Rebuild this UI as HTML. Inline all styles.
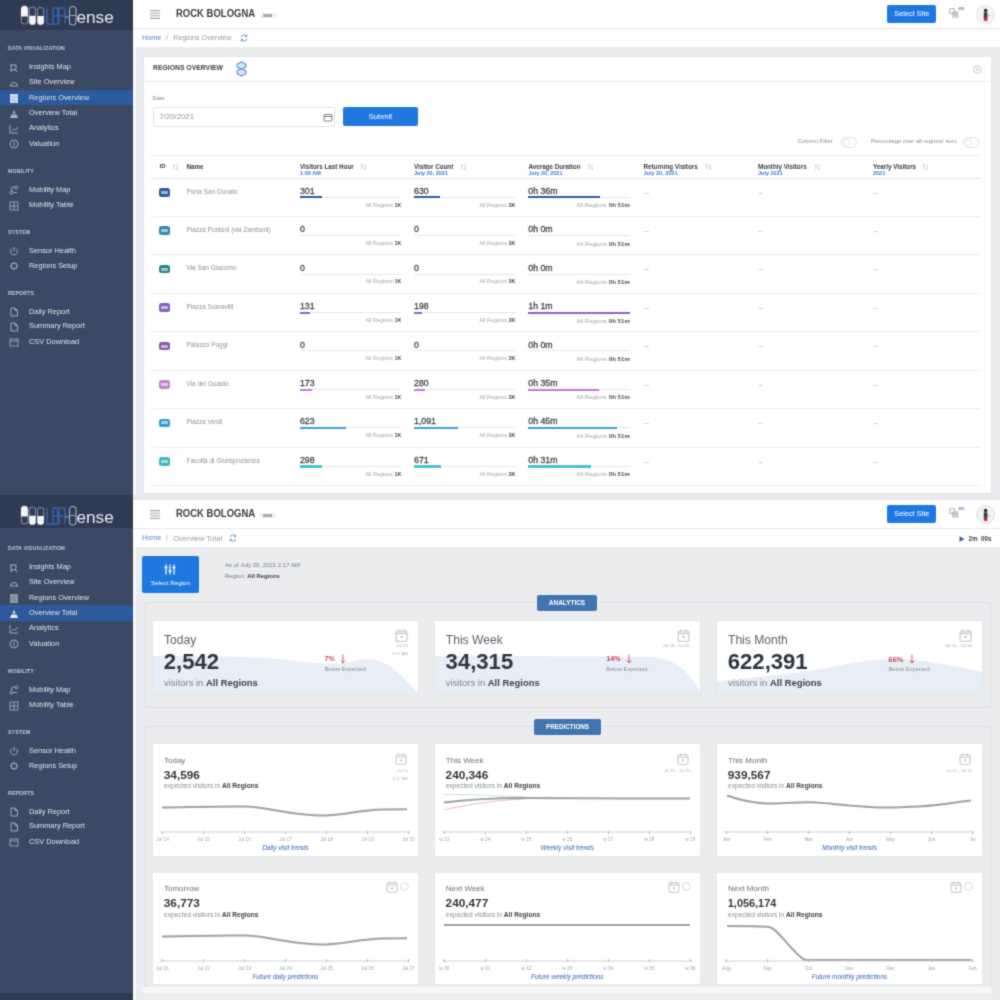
<!DOCTYPE html><html><head><meta charset="utf-8"><style>*{margin:0;padding:0;box-sizing:border-box}html,body{width:1000px;height:1000px;overflow:hidden}body{position:relative;background:#ebecee;font-family:"Liberation Sans",sans-serif}#w{position:absolute;left:0;top:0;width:1000px;height:1000px;overflow:hidden;filter:url(#bf)}.t,.r{position:absolute}.t{white-space:nowrap}svg.r{overflow:visible}</style></head><body><svg width="0" height="0" style="position:absolute"><filter id="bf" x="0" y="0" width="1" height="1" color-interpolation-filters="sRGB"><feConvolveMatrix order="3" kernelMatrix="0.0256 0.1088 0.0256 0.1088 0.4624 0.1088 0.0256 0.1088 0.0256" edgeMode="duplicate" preserveAlpha="true"/></filter></svg><div id="w">
<div class="r" style="left:133px;top:47px;width:867px;height:448px;background:#ebecee;"></div>
<div class="r" style="left:142.5px;top:56px;width:849.5px;height:438px;background:#ffffff;border:1px solid #e4e6e9;"></div>
<div class="r" style="left:143px;top:81px;width:848px;height:1px;background:#eceef0;"></div>
<div class="t" style="left:153px;top:63.4px;font-size:8.00px;line-height:9.6px;color:#3d4047;font-weight:bold;transform:scaleX(0.853);transform-origin:0 50%;">REGIONS OVERVIEW</div>
<svg class="r" style="left:236px;top:61px" width="11" height="16" viewBox="0 0 11 16"><path d="M5.5 0.8 L9.8 3.2 V6.2 L5.5 8 L1.2 6.2 V3.2Z" fill="#d3e8fb" stroke="#5a8cc8" stroke-width="1.1"/><path d="M5.5 7.8 L9.8 9.6 V12.8 L5.5 15.2 L1.2 12.8 V9.6Z" fill="#d3e8fb" stroke="#5a8cc8" stroke-width="1.1"/></svg>
<svg class="r" style="left:972.5px;top:64.5px" width="9" height="9" viewBox="0 0 9 9" fill="none" stroke="#bfc2c7" stroke-width="0.9"><circle cx="4.5" cy="4.5" r="3.8"/><circle cx="4.5" cy="4.5" r="1.2"/></svg>
<div class="t" style="left:152.6px;top:94.6px;font-size:5.68px;line-height:6.8px;color:#80858d;font-weight:normal;">Date</div>
<div class="r" style="left:152.5px;top:107px;width:182.5px;height:19.5px;background:#ffffff;border:1px solid #e0e3e7;border-radius:2px;"></div>
<div class="t" style="left:159.5px;top:112.1px;font-size:7.75px;line-height:9.3px;color:#8f949b;font-weight:normal;">7/20/2021</div>
<svg class="r" style="left:322.5px;top:112.5px" width="10" height="9" viewBox="0 0 10 9" fill="none" stroke="#7b8087" stroke-width="1"><rect x="1" y="1.5" width="8" height="6.5" rx="1"/><path d="M1 3.5h8"/></svg>
<div class="r" style="left:343px;top:107px;width:75px;height:19px;background:#1f78e0;border-radius:2px;"></div>
<div class="t" style="left:380.5px;top:112.0px;font-size:7.52px;line-height:9.0px;color:#ffffff;font-weight:normal;transform:translateX(-50%);">Submit</div>
<div class="t" style="left:797.6px;top:137.9px;font-size:5.92px;line-height:7.1px;color:#8a8f96;font-weight:normal;">Column Filter</div>
<div class="r" style="left:840.5px;top:137px;width:16.5px;height:11px;background:#ffffff;border:1px solid #dadde1;border-radius:6px;"></div>
<div class="r" style="left:842.5px;top:139px;width:7px;height:7px;border-radius:50%;border:1px solid #e3e5e8"></div>
<div class="t" style="left:871px;top:137.9px;font-size:5.92px;line-height:7.1px;color:#8a8f96;font-weight:normal;">Percentage over all regions' sum</div>
<div class="r" style="left:962.5px;top:137px;width:16.5px;height:11px;background:#ffffff;border:1px solid #dadde1;border-radius:6px;"></div>
<div class="r" style="left:964.5px;top:139px;width:7px;height:7px;border-radius:50%;border:1px solid #e3e5e8"></div>
<div class="r" style="left:152px;top:154.5px;width:829px;height:1px;background:#eceef0;"></div>
<div class="r" style="left:152px;top:177.5px;width:829px;height:1.2px;background:#e3e5e8;"></div>
<div class="t" style="left:159.5px;top:163.2px;font-size:6.00px;line-height:7.2px;color:#3d4047;font-weight:bold;">ID</div>
<svg class="r" style="left:172px;top:162.5px" width="7" height="8" viewBox="0 0 7 8" fill="none" stroke="#b5b9bf" stroke-width="0.7"><path d="M2 6.5 V1 l-1.2 1.2 M5 1.5 V7 l1.2-1.2"/></svg>
<div class="t" style="left:186.5px;top:163.0px;font-size:6.27px;line-height:7.5px;color:#3d4047;font-weight:bold;">Name</div>
<div class="t" style="left:299.9px;top:162.9px;font-size:6.27px;line-height:7.5px;color:#3d4047;font-weight:bold;">Visitors Last Hour</div>
<div class="t" style="left:299.9px;top:170.1px;font-size:5.50px;line-height:6.6px;color:#3b7bd0;font-weight:bold;">1:00 AM</div>
<svg class="r" style="left:360px;top:162.5px" width="7" height="8" viewBox="0 0 7 8" fill="none" stroke="#b5b9bf" stroke-width="0.7"><path d="M2 6.5 V1 l-1.2 1.2 M5 1.5 V7 l1.2-1.2"/></svg>
<div class="t" style="left:414px;top:162.9px;font-size:6.27px;line-height:7.5px;color:#3d4047;font-weight:bold;">Visitor Count</div>
<div class="t" style="left:414px;top:170.1px;font-size:5.50px;line-height:6.6px;color:#3b7bd0;font-weight:bold;">July 20, 2021</div>
<svg class="r" style="left:459.5px;top:162.5px" width="7" height="8" viewBox="0 0 7 8" fill="none" stroke="#b5b9bf" stroke-width="0.7"><path d="M2 6.5 V1 l-1.2 1.2 M5 1.5 V7 l1.2-1.2"/></svg>
<div class="t" style="left:528.5px;top:162.9px;font-size:6.27px;line-height:7.5px;color:#3d4047;font-weight:bold;">Average Duration</div>
<div class="t" style="left:528.5px;top:170.1px;font-size:5.50px;line-height:6.6px;color:#3b7bd0;font-weight:bold;">July 20, 2021</div>
<svg class="r" style="left:587px;top:162.5px" width="7" height="8" viewBox="0 0 7 8" fill="none" stroke="#b5b9bf" stroke-width="0.7"><path d="M2 6.5 V1 l-1.2 1.2 M5 1.5 V7 l1.2-1.2"/></svg>
<div class="t" style="left:643.5px;top:162.9px;font-size:6.27px;line-height:7.5px;color:#3d4047;font-weight:bold;">Returning Visitors</div>
<div class="t" style="left:643.5px;top:170.1px;font-size:5.50px;line-height:6.6px;color:#3b7bd0;font-weight:bold;">July 20, 2021</div>
<svg class="r" style="left:704.5px;top:162.5px" width="7" height="8" viewBox="0 0 7 8" fill="none" stroke="#b5b9bf" stroke-width="0.7"><path d="M2 6.5 V1 l-1.2 1.2 M5 1.5 V7 l1.2-1.2"/></svg>
<div class="t" style="left:758px;top:162.9px;font-size:6.27px;line-height:7.5px;color:#3d4047;font-weight:bold;">Monthly Visitors</div>
<div class="t" style="left:758px;top:170.1px;font-size:5.50px;line-height:6.6px;color:#3b7bd0;font-weight:bold;">July 2021</div>
<svg class="r" style="left:813.5px;top:162.5px" width="7" height="8" viewBox="0 0 7 8" fill="none" stroke="#b5b9bf" stroke-width="0.7"><path d="M2 6.5 V1 l-1.2 1.2 M5 1.5 V7 l1.2-1.2"/></svg>
<div class="t" style="left:873px;top:162.9px;font-size:6.27px;line-height:7.5px;color:#3d4047;font-weight:bold;">Yearly Visitors</div>
<div class="t" style="left:873px;top:170.1px;font-size:5.50px;line-height:6.6px;color:#3b7bd0;font-weight:bold;">2021</div>
<svg class="r" style="left:922px;top:162.5px" width="7" height="8" viewBox="0 0 7 8" fill="none" stroke="#b5b9bf" stroke-width="0.7"><path d="M2 6.5 V1 l-1.2 1.2 M5 1.5 V7 l1.2-1.2"/></svg>
<div class="r" style="left:159px;top:188.0px;width:11px;height:8.5px;background:#2b5fa6;border-radius:2.5px;"></div>
<div class="r" style="left:161px;top:190.7px;width:7px;height:3px;background:rgba(255,255,255,0.55);border-radius:1px;"></div>
<div class="t" style="left:186.5px;top:187.5px;font-size:6.45px;line-height:7.7px;color:#8c9198;font-weight:normal;">Porta San Donato</div>
<div class="t" style="left:299.9px;top:185.7px;font-size:8.78px;line-height:10.5px;color:#43474e;font-weight:normal;-webkit-text-stroke:0.3px #43474e;">301</div>
<div class="r" style="left:299.9px;top:196.6px;width:101.5px;height:1px;background:#e6e8eb;"></div>
<div class="r" style="left:299.9px;top:196.3px;width:22px;height:2.1px;background:#2e5d9c;"></div>
<div class="t" style="right:598.6px;top:201.5px;font-size:5.44px;line-height:6.5px;color:#a2a6ac;font-weight:normal;">All Regions <b style="color:#4a4e55">1K</b></div>
<div class="t" style="left:414px;top:185.7px;font-size:8.78px;line-height:10.5px;color:#43474e;font-weight:normal;-webkit-text-stroke:0.3px #43474e;">630</div>
<div class="r" style="left:414px;top:196.6px;width:101.5px;height:1px;background:#e6e8eb;"></div>
<div class="r" style="left:414px;top:196.3px;width:26px;height:2.1px;background:#2e5d9c;"></div>
<div class="t" style="right:484.5px;top:201.5px;font-size:5.44px;line-height:6.5px;color:#a2a6ac;font-weight:normal;">All Regions <b style="color:#4a4e55">3K</b></div>
<div class="t" style="left:528.3px;top:185.7px;font-size:8.78px;line-height:10.5px;color:#43474e;font-weight:normal;-webkit-text-stroke:0.3px #43474e;">0h 36m</div>
<div class="r" style="left:528.3px;top:196.6px;width:101.5px;height:1px;background:#e6e8eb;"></div>
<div class="r" style="left:528.3px;top:196.3px;width:71.5px;height:2.1px;background:#2e5d9c;"></div>
<div class="t" style="right:370.20000000000005px;top:201.1px;font-size:6.10px;line-height:7.3px;color:#a2a6ac;font-weight:normal;">All Regions <b style="color:#4a4e55">0h 51m</b></div>
<div class="r" style="left:643.5px;top:192.5px;width:5px;height:0.8px;background:#d3d6da;"></div>
<div class="r" style="left:758px;top:192.5px;width:5px;height:0.8px;background:#d3d6da;"></div>
<div class="r" style="left:873px;top:192.5px;width:5px;height:0.8px;background:#d3d6da;"></div>
<div class="r" style="left:152px;top:215.9px;width:829px;height:1px;background:#eceef0;"></div>
<div class="r" style="left:159px;top:226.45px;width:11px;height:8.5px;background:#3389b3;border-radius:2.5px;"></div>
<div class="r" style="left:161px;top:229.14999999999998px;width:7px;height:3px;background:rgba(255,255,255,0.55);border-radius:1px;"></div>
<div class="t" style="left:186.5px;top:226.0px;font-size:6.45px;line-height:7.7px;color:#8c9198;font-weight:normal;">Piazza Puntoni (via Zamboni)</div>
<div class="t" style="left:299.9px;top:224.2px;font-size:8.78px;line-height:10.5px;color:#43474e;font-weight:normal;-webkit-text-stroke:0.3px #43474e;">0</div>
<div class="r" style="left:299.9px;top:235.04999999999998px;width:101.5px;height:1px;background:#e6e8eb;"></div>
<div class="t" style="right:598.6px;top:240.0px;font-size:5.44px;line-height:6.5px;color:#a2a6ac;font-weight:normal;">All Regions <b style="color:#4a4e55">1K</b></div>
<div class="t" style="left:414px;top:224.2px;font-size:8.78px;line-height:10.5px;color:#43474e;font-weight:normal;-webkit-text-stroke:0.3px #43474e;">0</div>
<div class="r" style="left:414px;top:235.04999999999998px;width:101.5px;height:1px;background:#e6e8eb;"></div>
<div class="t" style="right:484.5px;top:240.0px;font-size:5.44px;line-height:6.5px;color:#a2a6ac;font-weight:normal;">All Regions <b style="color:#4a4e55">3K</b></div>
<div class="t" style="left:528.3px;top:224.2px;font-size:8.78px;line-height:10.5px;color:#43474e;font-weight:normal;-webkit-text-stroke:0.3px #43474e;">0h 0m</div>
<div class="r" style="left:528.3px;top:235.04999999999998px;width:101.5px;height:1px;background:#e6e8eb;"></div>
<div class="t" style="right:370.20000000000005px;top:239.6px;font-size:6.10px;line-height:7.3px;color:#a2a6ac;font-weight:normal;">All Regions <b style="color:#4a4e55">0h 51m</b></div>
<div class="r" style="left:643.5px;top:230.95px;width:5px;height:0.8px;background:#d3d6da;"></div>
<div class="r" style="left:758px;top:230.95px;width:5px;height:0.8px;background:#d3d6da;"></div>
<div class="r" style="left:873px;top:230.95px;width:5px;height:0.8px;background:#d3d6da;"></div>
<div class="r" style="left:152px;top:254.4px;width:829px;height:1px;background:#eceef0;"></div>
<div class="r" style="left:159px;top:264.9px;width:11px;height:8.5px;background:#2a8586;border-radius:2.5px;"></div>
<div class="r" style="left:161px;top:267.6px;width:7px;height:3px;background:rgba(255,255,255,0.55);border-radius:1px;"></div>
<div class="t" style="left:186.5px;top:264.4px;font-size:6.45px;line-height:7.7px;color:#8c9198;font-weight:normal;">Via San Giacomo</div>
<div class="t" style="left:299.9px;top:262.6px;font-size:8.78px;line-height:10.5px;color:#43474e;font-weight:normal;-webkit-text-stroke:0.3px #43474e;">0</div>
<div class="r" style="left:299.9px;top:273.5px;width:101.5px;height:1px;background:#e6e8eb;"></div>
<div class="t" style="right:598.6px;top:278.4px;font-size:5.44px;line-height:6.5px;color:#a2a6ac;font-weight:normal;">All Regions <b style="color:#4a4e55">1K</b></div>
<div class="t" style="left:414px;top:262.6px;font-size:8.78px;line-height:10.5px;color:#43474e;font-weight:normal;-webkit-text-stroke:0.3px #43474e;">0</div>
<div class="r" style="left:414px;top:273.5px;width:101.5px;height:1px;background:#e6e8eb;"></div>
<div class="t" style="right:484.5px;top:278.4px;font-size:5.44px;line-height:6.5px;color:#a2a6ac;font-weight:normal;">All Regions <b style="color:#4a4e55">3K</b></div>
<div class="t" style="left:528.3px;top:262.6px;font-size:8.78px;line-height:10.5px;color:#43474e;font-weight:normal;-webkit-text-stroke:0.3px #43474e;">0h 0m</div>
<div class="r" style="left:528.3px;top:273.5px;width:101.5px;height:1px;background:#e6e8eb;"></div>
<div class="t" style="right:370.20000000000005px;top:278.0px;font-size:6.10px;line-height:7.3px;color:#a2a6ac;font-weight:normal;">All Regions <b style="color:#4a4e55">0h 51m</b></div>
<div class="r" style="left:643.5px;top:269.4px;width:5px;height:0.8px;background:#d3d6da;"></div>
<div class="r" style="left:758px;top:269.4px;width:5px;height:0.8px;background:#d3d6da;"></div>
<div class="r" style="left:873px;top:269.4px;width:5px;height:0.8px;background:#d3d6da;"></div>
<div class="r" style="left:152px;top:292.9px;width:829px;height:1px;background:#eceef0;"></div>
<div class="r" style="left:159px;top:303.35px;width:11px;height:8.5px;background:#8163c2;border-radius:2.5px;"></div>
<div class="r" style="left:161px;top:306.05px;width:7px;height:3px;background:rgba(255,255,255,0.55);border-radius:1px;"></div>
<div class="t" style="left:186.5px;top:302.9px;font-size:6.45px;line-height:7.7px;color:#8c9198;font-weight:normal;">Piazza Scaravilli</div>
<div class="t" style="left:299.9px;top:301.1px;font-size:8.78px;line-height:10.5px;color:#43474e;font-weight:normal;-webkit-text-stroke:0.3px #43474e;">131</div>
<div class="r" style="left:299.9px;top:311.95000000000005px;width:101.5px;height:1px;background:#e6e8eb;"></div>
<div class="r" style="left:299.9px;top:311.65000000000003px;width:10px;height:2.1px;background:#8d62c4;"></div>
<div class="t" style="right:598.6px;top:316.9px;font-size:5.44px;line-height:6.5px;color:#a2a6ac;font-weight:normal;">All Regions <b style="color:#4a4e55">1K</b></div>
<div class="t" style="left:414px;top:301.1px;font-size:8.78px;line-height:10.5px;color:#43474e;font-weight:normal;-webkit-text-stroke:0.3px #43474e;">198</div>
<div class="r" style="left:414px;top:311.95000000000005px;width:101.5px;height:1px;background:#e6e8eb;"></div>
<div class="r" style="left:414px;top:311.65000000000003px;width:8px;height:2.1px;background:#8d62c4;"></div>
<div class="t" style="right:484.5px;top:316.9px;font-size:5.44px;line-height:6.5px;color:#a2a6ac;font-weight:normal;">All Regions <b style="color:#4a4e55">3K</b></div>
<div class="t" style="left:528.3px;top:301.1px;font-size:8.78px;line-height:10.5px;color:#43474e;font-weight:normal;-webkit-text-stroke:0.3px #43474e;">1h 1m</div>
<div class="r" style="left:528.3px;top:311.95000000000005px;width:101.5px;height:1px;background:#e6e8eb;"></div>
<div class="r" style="left:528.3px;top:311.65000000000003px;width:101.5px;height:2.1px;background:#8d62c4;"></div>
<div class="t" style="right:370.20000000000005px;top:316.5px;font-size:6.10px;line-height:7.3px;color:#a2a6ac;font-weight:normal;">All Regions <b style="color:#4a4e55">0h 51m</b></div>
<div class="r" style="left:643.5px;top:307.85px;width:5px;height:0.8px;background:#d3d6da;"></div>
<div class="r" style="left:758px;top:307.85px;width:5px;height:0.8px;background:#d3d6da;"></div>
<div class="r" style="left:873px;top:307.85px;width:5px;height:0.8px;background:#d3d6da;"></div>
<div class="r" style="left:152px;top:331.3px;width:829px;height:1px;background:#eceef0;"></div>
<div class="r" style="left:159px;top:341.8px;width:11px;height:8.5px;background:#8d5aa9;border-radius:2.5px;"></div>
<div class="r" style="left:161px;top:344.5px;width:7px;height:3px;background:rgba(255,255,255,0.55);border-radius:1px;"></div>
<div class="t" style="left:186.5px;top:341.3px;font-size:6.45px;line-height:7.7px;color:#8c9198;font-weight:normal;">Palazzo Poggi</div>
<div class="t" style="left:299.9px;top:339.5px;font-size:8.78px;line-height:10.5px;color:#43474e;font-weight:normal;-webkit-text-stroke:0.3px #43474e;">0</div>
<div class="r" style="left:299.9px;top:350.40000000000003px;width:101.5px;height:1px;background:#e6e8eb;"></div>
<div class="t" style="right:598.6px;top:355.3px;font-size:5.44px;line-height:6.5px;color:#a2a6ac;font-weight:normal;">All Regions <b style="color:#4a4e55">1K</b></div>
<div class="t" style="left:414px;top:339.5px;font-size:8.78px;line-height:10.5px;color:#43474e;font-weight:normal;-webkit-text-stroke:0.3px #43474e;">0</div>
<div class="r" style="left:414px;top:350.40000000000003px;width:101.5px;height:1px;background:#e6e8eb;"></div>
<div class="t" style="right:484.5px;top:355.3px;font-size:5.44px;line-height:6.5px;color:#a2a6ac;font-weight:normal;">All Regions <b style="color:#4a4e55">3K</b></div>
<div class="t" style="left:528.3px;top:339.5px;font-size:8.78px;line-height:10.5px;color:#43474e;font-weight:normal;-webkit-text-stroke:0.3px #43474e;">0h 0m</div>
<div class="r" style="left:528.3px;top:350.40000000000003px;width:101.5px;height:1px;background:#e6e8eb;"></div>
<div class="t" style="right:370.20000000000005px;top:354.9px;font-size:6.10px;line-height:7.3px;color:#a2a6ac;font-weight:normal;">All Regions <b style="color:#4a4e55">0h 51m</b></div>
<div class="r" style="left:643.5px;top:346.3px;width:5px;height:0.8px;background:#d3d6da;"></div>
<div class="r" style="left:758px;top:346.3px;width:5px;height:0.8px;background:#d3d6da;"></div>
<div class="r" style="left:873px;top:346.3px;width:5px;height:0.8px;background:#d3d6da;"></div>
<div class="r" style="left:152px;top:369.8px;width:829px;height:1px;background:#eceef0;"></div>
<div class="r" style="left:159px;top:380.25px;width:11px;height:8.5px;background:#c283d4;border-radius:2.5px;"></div>
<div class="r" style="left:161px;top:382.95px;width:7px;height:3px;background:rgba(255,255,255,0.55);border-radius:1px;"></div>
<div class="t" style="left:186.5px;top:379.8px;font-size:6.45px;line-height:7.7px;color:#8c9198;font-weight:normal;">Via del Guasto</div>
<div class="t" style="left:299.9px;top:378.0px;font-size:8.78px;line-height:10.5px;color:#43474e;font-weight:normal;-webkit-text-stroke:0.3px #43474e;">173</div>
<div class="r" style="left:299.9px;top:388.85px;width:101.5px;height:1px;background:#e6e8eb;"></div>
<div class="r" style="left:299.9px;top:388.55px;width:12.5px;height:2.1px;background:#c07ad6;"></div>
<div class="t" style="right:598.6px;top:393.8px;font-size:5.44px;line-height:6.5px;color:#a2a6ac;font-weight:normal;">All Regions <b style="color:#4a4e55">1K</b></div>
<div class="t" style="left:414px;top:378.0px;font-size:8.78px;line-height:10.5px;color:#43474e;font-weight:normal;-webkit-text-stroke:0.3px #43474e;">280</div>
<div class="r" style="left:414px;top:388.85px;width:101.5px;height:1px;background:#e6e8eb;"></div>
<div class="r" style="left:414px;top:388.55px;width:11px;height:2.1px;background:#c07ad6;"></div>
<div class="t" style="right:484.5px;top:393.8px;font-size:5.44px;line-height:6.5px;color:#a2a6ac;font-weight:normal;">All Regions <b style="color:#4a4e55">3K</b></div>
<div class="t" style="left:528.3px;top:378.0px;font-size:8.78px;line-height:10.5px;color:#43474e;font-weight:normal;-webkit-text-stroke:0.3px #43474e;">0h 35m</div>
<div class="r" style="left:528.3px;top:388.85px;width:101.5px;height:1px;background:#e6e8eb;"></div>
<div class="r" style="left:528.3px;top:388.55px;width:70.5px;height:2.1px;background:#c07ad6;"></div>
<div class="t" style="right:370.20000000000005px;top:393.4px;font-size:6.10px;line-height:7.3px;color:#a2a6ac;font-weight:normal;">All Regions <b style="color:#4a4e55">0h 51m</b></div>
<div class="r" style="left:643.5px;top:384.75px;width:5px;height:0.8px;background:#d3d6da;"></div>
<div class="r" style="left:758px;top:384.75px;width:5px;height:0.8px;background:#d3d6da;"></div>
<div class="r" style="left:873px;top:384.75px;width:5px;height:0.8px;background:#d3d6da;"></div>
<div class="r" style="left:152px;top:408.2px;width:829px;height:1px;background:#eceef0;"></div>
<div class="r" style="left:159px;top:418.70000000000005px;width:11px;height:8.5px;background:#2f9cd2;border-radius:2.5px;"></div>
<div class="r" style="left:161px;top:421.40000000000003px;width:7px;height:3px;background:rgba(255,255,255,0.55);border-radius:1px;"></div>
<div class="t" style="left:186.5px;top:418.2px;font-size:6.45px;line-height:7.7px;color:#8c9198;font-weight:normal;">Piazza Verdi</div>
<div class="t" style="left:299.9px;top:416.4px;font-size:8.78px;line-height:10.5px;color:#43474e;font-weight:normal;-webkit-text-stroke:0.3px #43474e;">623</div>
<div class="r" style="left:299.9px;top:427.30000000000007px;width:101.5px;height:1px;background:#e6e8eb;"></div>
<div class="r" style="left:299.9px;top:427.00000000000006px;width:46px;height:2.1px;background:#3aa2d8;"></div>
<div class="t" style="right:598.6px;top:432.2px;font-size:5.44px;line-height:6.5px;color:#a2a6ac;font-weight:normal;">All Regions <b style="color:#4a4e55">1K</b></div>
<div class="t" style="left:414px;top:416.4px;font-size:8.78px;line-height:10.5px;color:#43474e;font-weight:normal;-webkit-text-stroke:0.3px #43474e;">1,091</div>
<div class="r" style="left:414px;top:427.30000000000007px;width:101.5px;height:1px;background:#e6e8eb;"></div>
<div class="r" style="left:414px;top:427.00000000000006px;width:44px;height:2.1px;background:#3aa2d8;"></div>
<div class="t" style="right:484.5px;top:432.2px;font-size:5.44px;line-height:6.5px;color:#a2a6ac;font-weight:normal;">All Regions <b style="color:#4a4e55">3K</b></div>
<div class="t" style="left:528.3px;top:416.4px;font-size:8.78px;line-height:10.5px;color:#43474e;font-weight:normal;-webkit-text-stroke:0.3px #43474e;">0h 45m</div>
<div class="r" style="left:528.3px;top:427.30000000000007px;width:101.5px;height:1px;background:#e6e8eb;"></div>
<div class="r" style="left:528.3px;top:427.00000000000006px;width:89px;height:2.1px;background:#3aa2d8;"></div>
<div class="t" style="right:370.20000000000005px;top:431.8px;font-size:6.10px;line-height:7.3px;color:#a2a6ac;font-weight:normal;">All Regions <b style="color:#4a4e55">0h 51m</b></div>
<div class="r" style="left:643.5px;top:423.20000000000005px;width:5px;height:0.8px;background:#d3d6da;"></div>
<div class="r" style="left:758px;top:423.20000000000005px;width:5px;height:0.8px;background:#d3d6da;"></div>
<div class="r" style="left:873px;top:423.20000000000005px;width:5px;height:0.8px;background:#d3d6da;"></div>
<div class="r" style="left:152px;top:446.7px;width:829px;height:1px;background:#eceef0;"></div>
<div class="r" style="left:152px;top:485.1px;width:829px;height:1px;background:#eceef0;"></div>
<div class="r" style="left:159px;top:457.15000000000003px;width:11px;height:8.5px;background:#45b5c2;border-radius:2.5px;"></div>
<div class="r" style="left:161px;top:459.85px;width:7px;height:3px;background:rgba(255,255,255,0.55);border-radius:1px;"></div>
<div class="t" style="left:186.5px;top:456.7px;font-size:6.45px;line-height:7.7px;color:#8c9198;font-weight:normal;">Facolt&agrave; di Giurisprudenza</div>
<div class="t" style="left:299.9px;top:454.9px;font-size:8.78px;line-height:10.5px;color:#43474e;font-weight:normal;-webkit-text-stroke:0.3px #43474e;">298</div>
<div class="r" style="left:299.9px;top:465.75000000000006px;width:101.5px;height:1px;background:#e6e8eb;"></div>
<div class="r" style="left:299.9px;top:465.45000000000005px;width:22.5px;height:2.1px;background:#4bc1cf;"></div>
<div class="t" style="right:598.6px;top:470.7px;font-size:5.44px;line-height:6.5px;color:#a2a6ac;font-weight:normal;">All Regions <b style="color:#4a4e55">1K</b></div>
<div class="t" style="left:414px;top:454.9px;font-size:8.78px;line-height:10.5px;color:#43474e;font-weight:normal;-webkit-text-stroke:0.3px #43474e;">671</div>
<div class="r" style="left:414px;top:465.75000000000006px;width:101.5px;height:1px;background:#e6e8eb;"></div>
<div class="r" style="left:414px;top:465.45000000000005px;width:27px;height:2.1px;background:#4bc1cf;"></div>
<div class="t" style="right:484.5px;top:470.7px;font-size:5.44px;line-height:6.5px;color:#a2a6ac;font-weight:normal;">All Regions <b style="color:#4a4e55">3K</b></div>
<div class="t" style="left:528.3px;top:454.9px;font-size:8.78px;line-height:10.5px;color:#43474e;font-weight:normal;-webkit-text-stroke:0.3px #43474e;">0h 31m</div>
<div class="r" style="left:528.3px;top:465.75000000000006px;width:101.5px;height:1px;background:#e6e8eb;"></div>
<div class="r" style="left:528.3px;top:465.45000000000005px;width:62.5px;height:2.1px;background:#4bc1cf;"></div>
<div class="t" style="right:370.20000000000005px;top:470.3px;font-size:6.10px;line-height:7.3px;color:#a2a6ac;font-weight:normal;">All Regions <b style="color:#4a4e55">0h 51m</b></div>
<div class="r" style="left:643.5px;top:461.65000000000003px;width:5px;height:0.8px;background:#d3d6da;"></div>
<div class="r" style="left:758px;top:461.65000000000003px;width:5px;height:0.8px;background:#d3d6da;"></div>
<div class="r" style="left:873px;top:461.65000000000003px;width:5px;height:0.8px;background:#d3d6da;"></div>
<div class="r" style="left:133px;top:0px;width:867px;height:28px;background:#ffffff;"></div>
<div class="r" style="left:133px;top:28px;width:867px;height:1px;background:#e6e8eb;"></div>
<div class="r" style="left:133px;top:29px;width:867px;height:18px;background:#ffffff;"></div>
<svg class="r" style="left:150px;top:10px" width="10" height="9" viewBox="0 0 10 9"><path d="M0 0.6H10M0 3.2H10M0 5.8H10M0 8.4H10" stroke="#a4a9b0" stroke-width="1.1"/></svg>
<div class="t" style="left:176.4px;top:7.6px;font-size:10.40px;line-height:12.5px;color:#3a3d44;font-weight:bold;transform:scaleX(0.914);transform-origin:0 50%;">ROCK BOLOGNA</div>
<div class="r" style="left:259.5px;top:12.8px;width:16px;height:5.5px;background:#f1f2f4;border-radius:1px;"></div>
<div class="t" style="left:267.5px;top:13.1px;font-size:4.20px;line-height:5.0px;color:#5d6168;font-weight:bold;transform:translateX(-50%);">3805</div>
<div class="r" style="left:887px;top:5px;width:49px;height:18px;background:#1f78e0;border-radius:2px;"></div>
<div class="t" style="left:911.8px;top:9.6px;font-size:7.32px;line-height:8.8px;color:#ffffff;font-weight:normal;transform:translateX(-50%);">Select Site</div>
<svg class="r" style="left:949px;top:7px" width="12" height="12" viewBox="0 0 12 12"><rect x="0.8" y="1.8" width="4.6" height="4.6" fill="none" stroke="#a3a8af" stroke-width="0.9"/><rect x="3.8" y="5" width="5" height="5" fill="none" stroke="#a3a8af" stroke-width="0.9"/><rect x="4.6" y="5.8" width="3.4" height="3.4" fill="#c2c6cb"/></svg>
<div class="t" style="left:958.5px;top:6.2px;font-size:4.30px;line-height:5.2px;color:#6f8fbf;font-weight:bold;">EN</div>
<div class="r" style="left:975.5px;top:4.5px;width:19.5px;height:19.5px;border-radius:50%;background:#f2f3f4;border:1px solid #e0e2e5"></div>
<svg class="r" style="left:975.5px;top:4.5px" width="19.5" height="19.5" viewBox="0 0 19.5 19.5"><circle cx="9.6" cy="5.5" r="1.8" fill="#2a2a33"/><rect x="7.8" y="7.3" width="3.6" height="5" fill="#3a3550"/><rect x="7.8" y="11.8" width="3.6" height="4" fill="#b4244a"/><path d="M11.2 9 l3 1.5 l-3 1.5z" fill="#8fd28a"/></svg>
<div class="t" style="left:142px;top:34.0px;font-size:7.20px;line-height:8.6px;color:#5a86c4;font-weight:normal;">Home</div>
<div class="t" style="left:166px;top:34.0px;font-size:7.20px;line-height:8.6px;color:#a0a5ac;font-weight:normal;">/</div>
<div class="t" style="left:173.2px;top:34.0px;font-size:7.20px;line-height:8.6px;color:#979ca4;font-weight:normal;">Regions Overview</div>
<svg class="r" style="left:240.4px;top:34.3px" width="8" height="8" viewBox="0 0 8 8" fill="none" stroke="#6b95cf" stroke-width="1"><path d="M1.2 3.3 a2.9 2.9 0 0 1 5.3-1.2 M6.8 4.7 a2.9 2.9 0 0 1-5.3 1.2"/><path d="M6.9 0.6 v1.9 h-1.9 M1.1 7.4 v-1.9 h1.9"/></svg>
<div class="r" style="left:133px;top:494px;width:867px;height:6px;background:#e9eaed;"></div>
<div class="r" style="left:133px;top:546px;width:867px;height:454px;background:#ebecee;"></div>
<div class="r" style="left:142px;top:556px;width:57px;height:37px;background:#1f78e0;border-radius:2px;"></div>
<svg class="r" style="left:164px;top:564px" width="12" height="11" viewBox="0 0 12 11" fill="none" stroke="#ffffff" stroke-width="1.2"><path d="M2 0.5v10M6 0.5v10M10 0.5v10"/><path d="M0.5 3.5h3M4.5 7h3M8.5 3.5h3" stroke-width="1.6"/></svg>
<div class="t" style="left:170.5px;top:579.4px;font-size:6.26px;line-height:7.5px;color:#ffffff;font-weight:normal;transform:translateX(-50%);">Select Region</div>
<div class="t" style="left:225px;top:562.4px;font-size:6.02px;line-height:7.2px;color:#777c84;font-weight:normal;">As of July 20, 2021 2:17 AM</div>
<div class="t" style="left:225px;top:572.8px;font-size:5.96px;line-height:7.2px;color:#777c84;font-weight:normal;">Region: <b style="color:#3d4047">All Regions</b></div>
<div class="r" style="left:144.5px;top:602px;width:846px;height:105.5px;background:transparent;border:1px solid #dcdfe3;"></div>
<div class="r" style="left:144.5px;top:725.5px;width:846px;height:262px;background:transparent;border:1px solid #dcdfe3;"></div>
<div class="r" style="left:143px;top:986.5px;width:848px;height:6.5px;background:#f7f8f9;"></div>
<div class="r" style="left:537px;top:595px;width:60px;height:16px;background:#4175b0;border-radius:2px;"></div>
<div class="t" style="left:567px;top:599.3px;font-size:6.46px;line-height:7.8px;color:#ffffff;font-weight:bold;transform:translateX(-50%);">ANALYTICS</div>
<div class="r" style="left:534px;top:719px;width:67px;height:16px;background:#4175b0;border-radius:2px;"></div>
<div class="t" style="left:567.5px;top:723.4px;font-size:6.32px;line-height:7.6px;color:#ffffff;font-weight:bold;transform:translateX(-50%);">PREDICTIONS</div>
<div class="r" style="left:153px;top:620.5px;width:265px;height:73px;background:#ffffff;box-shadow:0 0 0 1px #e6e8eb;"></div>
<svg class="r" style="left:153px;top:620.5px" width="265" height="73" viewBox="0 0 265 73"><path d="M0 35 C40 35 90 35 120 37.5 C150 40.5 165 43 182 42.5 C197 42 205 38.3 215 38.3 C228 38.5 238 45 248 54 C255 61 260 67 265 71 V73 H0Z" fill="#e8eef7"/></svg>
<div class="t" style="left:164px;top:633.1px;font-size:12.10px;line-height:14.5px;color:#5e6269;font-weight:normal;">Today</div>
<div class="t" style="left:163.8px;top:649.2px;font-size:22.10px;line-height:26.5px;color:#2d3444;font-weight:bold;">2,542</div>
<div class="t" style="left:164px;top:676.8px;font-size:9.45px;line-height:11.3px;color:#80858c;font-weight:normal;">visitors in <b style="color:#3d4350">All Regions</b></div>
<div class="t" style="left:324.5px;top:655.4px;font-size:7.13px;line-height:8.6px;color:#d0455a;font-weight:bold;">7%</div>
<svg class="r" style="left:340.3px;top:653.5px" width="6" height="10" viewBox="0 0 6 10" fill="none" stroke="#d0455a" stroke-width="0.9"><path d="M3 0.5v8.5M0.8 6.5l2.2 2.5l2.2-2.5"/></svg>
<div class="t" style="left:324.5px;top:666.3px;font-size:5.75px;line-height:6.9px;color:#8c9097;font-weight:normal;">Below Expected</div>
<svg class="r" style="left:395px;top:629.0px" width="13" height="13" viewBox="0 0 12 12" fill="none" stroke="#bfc3c8" stroke-width="1"><rect x="1" y="1.8" width="10" height="9.5" rx="1"/><path d="M1 4h10M3.5 0.5v2M8.5 0.5v2"/><rect x="5" y="6.3" width="2" height="2" fill="#bfc3c8" stroke="none"/></svg>
<div class="t" style="right:592px;top:643.4px;font-size:4.40px;line-height:5.3px;color:#a9adb3;font-weight:normal;">Jul 20</div>
<div class="t" style="right:592px;top:651.2px;font-size:4.40px;line-height:5.3px;color:#a9adb3;font-weight:normal;">2:17 AM</div>
<div class="r" style="left:434.8px;top:620.5px;width:265px;height:73px;background:#ffffff;box-shadow:0 0 0 1px #e6e8eb;"></div>
<svg class="r" style="left:434.8px;top:620.5px" width="265" height="73" viewBox="0 0 265 73"><path d="M0 35 C80 35 170 35 215 36 C235 37 245 45 252 52 C258 59 262 66 265 70 V73 H0Z" fill="#e8eef7"/></svg>
<div class="t" style="left:445.8px;top:633.1px;font-size:12.10px;line-height:14.5px;color:#5e6269;font-weight:normal;">This Week</div>
<div class="t" style="left:445.6px;top:649.2px;font-size:22.10px;line-height:26.5px;color:#2d3444;font-weight:bold;">34,315</div>
<div class="t" style="left:445.8px;top:676.8px;font-size:9.45px;line-height:11.3px;color:#80858c;font-weight:normal;">visitors in <b style="color:#3d4350">All Regions</b></div>
<div class="t" style="left:606.3px;top:655.4px;font-size:7.24px;line-height:8.7px;color:#d0455a;font-weight:bold;">14%</div>
<svg class="r" style="left:626.3px;top:653.5px" width="6" height="10" viewBox="0 0 6 10" fill="none" stroke="#d0455a" stroke-width="0.9"><path d="M3 0.5v8.5M0.8 6.5l2.2 2.5l2.2-2.5"/></svg>
<div class="t" style="left:606.3px;top:666.3px;font-size:5.75px;line-height:6.9px;color:#8c9097;font-weight:normal;">Below Expected</div>
<svg class="r" style="left:676.8px;top:629.0px" width="13" height="13" viewBox="0 0 12 12" fill="none" stroke="#bfc3c8" stroke-width="1"><rect x="1" y="1.8" width="10" height="9.5" rx="1"/><path d="M1 4h10M3.5 0.5v2M8.5 0.5v2"/><rect x="5" y="6.3" width="2" height="2" fill="#bfc3c8" stroke="none"/></svg>
<div class="t" style="right:310.20000000000005px;top:643.4px;font-size:4.40px;line-height:5.3px;color:#a9adb3;font-weight:normal;">Jul 19 - Jul 20</div>
<div class="r" style="left:717px;top:620.5px;width:265px;height:73px;background:#ffffff;box-shadow:0 0 0 1px #e6e8eb;"></div>
<svg class="r" style="left:717px;top:620.5px" width="265" height="73" viewBox="0 0 265 73"><path d="M0 60 C30 58 55 54 77 52 C110 49 140 38 175 38 C210 38 240 46 265 51 V73 H0Z" fill="#e8eef7"/></svg>
<div class="t" style="left:728px;top:633.1px;font-size:12.10px;line-height:14.5px;color:#5e6269;font-weight:normal;">This Month</div>
<div class="t" style="left:727.8px;top:649.2px;font-size:22.10px;line-height:26.5px;color:#2d3444;font-weight:bold;">622,391</div>
<div class="t" style="left:728px;top:676.8px;font-size:9.45px;line-height:11.3px;color:#80858c;font-weight:normal;">visitors in <b style="color:#3d4350">All Regions</b></div>
<div class="t" style="left:888.5px;top:655.2px;font-size:7.49px;line-height:9.0px;color:#d0455a;font-weight:bold;">66%</div>
<svg class="r" style="left:909.0px;top:653.5px" width="6" height="10" viewBox="0 0 6 10" fill="none" stroke="#d0455a" stroke-width="0.9"><path d="M3 0.5v8.5M0.8 6.5l2.2 2.5l2.2-2.5"/></svg>
<div class="t" style="left:888.5px;top:666.3px;font-size:5.75px;line-height:6.9px;color:#8c9097;font-weight:normal;">Below Expected</div>
<svg class="r" style="left:959px;top:629.0px" width="13" height="13" viewBox="0 0 12 12" fill="none" stroke="#bfc3c8" stroke-width="1"><rect x="1" y="1.8" width="10" height="9.5" rx="1"/><path d="M1 4h10M3.5 0.5v2M8.5 0.5v2"/><rect x="5" y="6.3" width="2" height="2" fill="#bfc3c8" stroke="none"/></svg>
<div class="t" style="right:28px;top:643.4px;font-size:4.40px;line-height:5.3px;color:#a9adb3;font-weight:normal;">Jul 01 - Jul 20</div>
<div class="r" style="left:153px;top:744px;width:265px;height:111.5px;background:#ffffff;box-shadow:0 0 0 1px #e7e9ec;"></div>
<div class="t" style="left:164px;top:755.5px;font-size:8.00px;line-height:9.6px;color:#6b6f76;font-weight:normal;">Today</div>
<div class="t" style="left:163.8px;top:767.5px;font-size:11.80px;line-height:14.2px;color:#33363d;font-weight:bold;">34,596</div>
<div class="t" style="left:164px;top:782.0px;font-size:6.62px;line-height:7.9px;color:#8a8e95;font-weight:normal;">expected visitors in <b style="color:#3d4047">All Regions</b></div>
<svg class="r" style="left:395px;top:752.5px" width="12" height="12" viewBox="0 0 12 12" fill="none" stroke="#c3c6cb" stroke-width="1"><rect x="1" y="1.8" width="10" height="9.5" rx="1"/><path d="M1 4h10M3.5 0.5v2M8.5 0.5v2"/><rect x="5" y="6.3" width="2" height="2" fill="#c3c6cb" stroke="none"/></svg>
<div class="t" style="right:592px;top:768.0px;font-size:4.20px;line-height:5.0px;color:#b0b4b9;font-weight:normal;">Jul 20</div>
<div class="t" style="right:592px;top:775.5px;font-size:4.20px;line-height:5.0px;color:#b0b4b9;font-weight:normal;">2:17 AM</div>
<svg class="r" style="left:153px;top:744px" width="265" height="112" viewBox="0 0 265 112"><path d="M9 63.5 C30 63.5 60 62 92 62.5 C115 63 140 72 172 71.5 C195 71 205 66 230 65.5 C240 65.3 248 65.3 254 65.3" stroke="#9a9ca0" stroke-width="2" fill="none"/><path d="M9 63.5 C30 63.5 60 62 92 62.5 C115 63 140 72 172 71.5 C195 71 205 66 230 65.5 C240 65.3 248 65.3 254 65.3" stroke="#c4c6c9" stroke-width="0.6" fill="none" stroke-dasharray="0.8 1.6"/><path d="M7 88 H257" stroke="#d0d2d5" stroke-width="1"/></svg>
<div class="r" style="left:162.0px;top:830.5px;width:1px;height:3px;background:#b8bbbf;"></div>
<div class="t" style="left:162.5px;top:837.2px;font-size:4.70px;line-height:5.6px;color:#a1a5ab;font-weight:normal;transform:translateX(-50%);">Jul 14</div>
<div class="r" style="left:203.0px;top:830.5px;width:1px;height:3px;background:#b8bbbf;"></div>
<div class="t" style="left:203.5px;top:837.2px;font-size:4.70px;line-height:5.6px;color:#a1a5ab;font-weight:normal;transform:translateX(-50%);">Jul 15</div>
<div class="r" style="left:244.0px;top:830.5px;width:1px;height:3px;background:#b8bbbf;"></div>
<div class="t" style="left:244.5px;top:837.2px;font-size:4.70px;line-height:5.6px;color:#a1a5ab;font-weight:normal;transform:translateX(-50%);">Jul 16</div>
<div class="r" style="left:285.0px;top:830.5px;width:1px;height:3px;background:#b8bbbf;"></div>
<div class="t" style="left:285.5px;top:837.2px;font-size:4.70px;line-height:5.6px;color:#a1a5ab;font-weight:normal;transform:translateX(-50%);">Jul 17</div>
<div class="r" style="left:326.0px;top:830.5px;width:1px;height:3px;background:#b8bbbf;"></div>
<div class="t" style="left:326.5px;top:837.2px;font-size:4.70px;line-height:5.6px;color:#a1a5ab;font-weight:normal;transform:translateX(-50%);">Jul 18</div>
<div class="r" style="left:367.0px;top:830.5px;width:1px;height:3px;background:#b8bbbf;"></div>
<div class="t" style="left:367.5px;top:837.2px;font-size:4.70px;line-height:5.6px;color:#a1a5ab;font-weight:normal;transform:translateX(-50%);">Jul 19</div>
<div class="r" style="left:408.0px;top:830.5px;width:1px;height:3px;background:#b8bbbf;"></div>
<div class="t" style="left:408.5px;top:837.2px;font-size:4.70px;line-height:5.6px;color:#a1a5ab;font-weight:normal;transform:translateX(-50%);">Jul 20</div>
<div class="t" style="left:285.5px;top:844.0px;font-size:6.40px;line-height:7.7px;color:#3463b3;font-weight:normal;transform:translateX(-50%);font-style:italic;">Daily visit trends</div>
<div class="r" style="left:434.8px;top:744px;width:265px;height:111.5px;background:#ffffff;box-shadow:0 0 0 1px #e7e9ec;"></div>
<div class="t" style="left:445.8px;top:755.5px;font-size:8.00px;line-height:9.6px;color:#6b6f76;font-weight:normal;">This Week</div>
<div class="t" style="left:445.6px;top:767.5px;font-size:11.80px;line-height:14.2px;color:#33363d;font-weight:bold;">240,346</div>
<div class="t" style="left:445.8px;top:782.0px;font-size:6.62px;line-height:7.9px;color:#8a8e95;font-weight:normal;">expected visitors in <b style="color:#3d4047">All Regions</b></div>
<svg class="r" style="left:676.8px;top:752.5px" width="12" height="12" viewBox="0 0 12 12" fill="none" stroke="#c3c6cb" stroke-width="1"><rect x="1" y="1.8" width="10" height="9.5" rx="1"/><path d="M1 4h10M3.5 0.5v2M8.5 0.5v2"/><rect x="5" y="6.3" width="2" height="2" fill="#c3c6cb" stroke="none"/></svg>
<div class="t" style="right:310.20000000000005px;top:768.0px;font-size:4.20px;line-height:5.0px;color:#b0b4b9;font-weight:normal;">Jul 19 - Jul 20</div>
<svg class="r" style="left:434.8px;top:744px" width="265" height="112" viewBox="0 0 265 112"><path d="M9 50.5 C40 50.5 70 52 90 53" stroke="#b7d5d6" stroke-width="0.7" fill="none"/><path d="M9 66 C30 61 60 56 90 55" stroke="#e2a9b3" stroke-width="0.8" fill="none"/><path d="M9 58.5 C30 56 50 54 86 54 C120 54.5 200 54.5 255 54.5" stroke="#9a9ca0" stroke-width="2" fill="none"/><path d="M9 58.5 C30 56 50 54 86 54 C120 54.5 200 54.5 255 54.5" stroke="#c4c6c9" stroke-width="0.6" fill="none" stroke-dasharray="0.8 1.6"/><path d="M7 88 H257" stroke="#d0d2d5" stroke-width="1"/></svg>
<div class="r" style="left:443.8px;top:830.5px;width:1px;height:3px;background:#b8bbbf;"></div>
<div class="t" style="left:444.3px;top:837.2px;font-size:4.70px;line-height:5.6px;color:#a1a5ab;font-weight:normal;transform:translateX(-50%);">w 23</div>
<div class="r" style="left:484.8px;top:830.5px;width:1px;height:3px;background:#b8bbbf;"></div>
<div class="t" style="left:485.3px;top:837.2px;font-size:4.70px;line-height:5.6px;color:#a1a5ab;font-weight:normal;transform:translateX(-50%);">w 24</div>
<div class="r" style="left:525.8px;top:830.5px;width:1px;height:3px;background:#b8bbbf;"></div>
<div class="t" style="left:526.3px;top:837.2px;font-size:4.70px;line-height:5.6px;color:#a1a5ab;font-weight:normal;transform:translateX(-50%);">w 25</div>
<div class="r" style="left:566.8px;top:830.5px;width:1px;height:3px;background:#b8bbbf;"></div>
<div class="t" style="left:567.3px;top:837.2px;font-size:4.70px;line-height:5.6px;color:#a1a5ab;font-weight:normal;transform:translateX(-50%);">w 26</div>
<div class="r" style="left:607.8px;top:830.5px;width:1px;height:3px;background:#b8bbbf;"></div>
<div class="t" style="left:608.3px;top:837.2px;font-size:4.70px;line-height:5.6px;color:#a1a5ab;font-weight:normal;transform:translateX(-50%);">w 27</div>
<div class="r" style="left:648.8px;top:830.5px;width:1px;height:3px;background:#b8bbbf;"></div>
<div class="t" style="left:649.3px;top:837.2px;font-size:4.70px;line-height:5.6px;color:#a1a5ab;font-weight:normal;transform:translateX(-50%);">w 28</div>
<div class="r" style="left:689.8px;top:830.5px;width:1px;height:3px;background:#b8bbbf;"></div>
<div class="t" style="left:690.3px;top:837.2px;font-size:4.70px;line-height:5.6px;color:#a1a5ab;font-weight:normal;transform:translateX(-50%);">w 29</div>
<div class="t" style="left:567.3px;top:844.0px;font-size:6.40px;line-height:7.7px;color:#3463b3;font-weight:normal;transform:translateX(-50%);font-style:italic;">Weekly visit trends</div>
<div class="r" style="left:717px;top:744px;width:265px;height:111.5px;background:#ffffff;box-shadow:0 0 0 1px #e7e9ec;"></div>
<div class="t" style="left:728px;top:755.5px;font-size:8.00px;line-height:9.6px;color:#6b6f76;font-weight:normal;">This Month</div>
<div class="t" style="left:727.8px;top:767.5px;font-size:11.80px;line-height:14.2px;color:#33363d;font-weight:bold;">939,567</div>
<div class="t" style="left:728px;top:782.0px;font-size:6.62px;line-height:7.9px;color:#8a8e95;font-weight:normal;">expected visitors in <b style="color:#3d4047">All Regions</b></div>
<svg class="r" style="left:959px;top:752.5px" width="12" height="12" viewBox="0 0 12 12" fill="none" stroke="#c3c6cb" stroke-width="1"><rect x="1" y="1.8" width="10" height="9.5" rx="1"/><path d="M1 4h10M3.5 0.5v2M8.5 0.5v2"/><rect x="5" y="6.3" width="2" height="2" fill="#c3c6cb" stroke="none"/></svg>
<div class="t" style="right:28px;top:768.0px;font-size:4.20px;line-height:5.0px;color:#b0b4b9;font-weight:normal;">Jul 01 - Jul 20</div>
<svg class="r" style="left:717px;top:744px" width="265" height="112" viewBox="0 0 265 112"><path d="M10 51.5 C20 55 35 59 50 59.5 C70 60 85 57 100 58.5 C120 60 150 64 175 63.5 C195 63 215 62.5 235 59 C243 58 248 57 254 56.5" stroke="#9a9ca0" stroke-width="2" fill="none"/><path d="M10 51.5 C20 55 35 59 50 59.5 C70 60 85 57 100 58.5 C120 60 150 64 175 63.5 C195 63 215 62.5 235 59 C243 58 248 57 254 56.5" stroke="#c4c6c9" stroke-width="0.6" fill="none" stroke-dasharray="0.8 1.6"/><path d="M7 88 H257" stroke="#d0d2d5" stroke-width="1"/></svg>
<div class="r" style="left:726.0px;top:830.5px;width:1px;height:3px;background:#b8bbbf;"></div>
<div class="t" style="left:726.5px;top:837.2px;font-size:4.70px;line-height:5.6px;color:#a1a5ab;font-weight:normal;transform:translateX(-50%);">Jan</div>
<div class="r" style="left:767.0px;top:830.5px;width:1px;height:3px;background:#b8bbbf;"></div>
<div class="t" style="left:767.5px;top:837.2px;font-size:4.70px;line-height:5.6px;color:#a1a5ab;font-weight:normal;transform:translateX(-50%);">Feb</div>
<div class="r" style="left:808.0px;top:830.5px;width:1px;height:3px;background:#b8bbbf;"></div>
<div class="t" style="left:808.5px;top:837.2px;font-size:4.70px;line-height:5.6px;color:#a1a5ab;font-weight:normal;transform:translateX(-50%);">Mar</div>
<div class="r" style="left:849.0px;top:830.5px;width:1px;height:3px;background:#b8bbbf;"></div>
<div class="t" style="left:849.5px;top:837.2px;font-size:4.70px;line-height:5.6px;color:#a1a5ab;font-weight:normal;transform:translateX(-50%);">Apr</div>
<div class="r" style="left:890.0px;top:830.5px;width:1px;height:3px;background:#b8bbbf;"></div>
<div class="t" style="left:890.5px;top:837.2px;font-size:4.70px;line-height:5.6px;color:#a1a5ab;font-weight:normal;transform:translateX(-50%);">May</div>
<div class="r" style="left:931.0px;top:830.5px;width:1px;height:3px;background:#b8bbbf;"></div>
<div class="t" style="left:931.5px;top:837.2px;font-size:4.70px;line-height:5.6px;color:#a1a5ab;font-weight:normal;transform:translateX(-50%);">Jun</div>
<div class="r" style="left:972.0px;top:830.5px;width:1px;height:3px;background:#b8bbbf;"></div>
<div class="t" style="left:972.5px;top:837.2px;font-size:4.70px;line-height:5.6px;color:#a1a5ab;font-weight:normal;transform:translateX(-50%);">Jul</div>
<div class="t" style="left:849.5px;top:844.0px;font-size:6.40px;line-height:7.7px;color:#3463b3;font-weight:normal;transform:translateX(-50%);font-style:italic;">Monthly visit trends</div>
<div class="r" style="left:153px;top:872.6px;width:265px;height:111.5px;background:#ffffff;box-shadow:0 0 0 1px #e7e9ec;"></div>
<div class="t" style="left:164px;top:884.1px;font-size:8.00px;line-height:9.6px;color:#6b6f76;font-weight:normal;">Tomorrow</div>
<div class="t" style="left:163.8px;top:896.1px;font-size:11.80px;line-height:14.2px;color:#33363d;font-weight:bold;">36,773</div>
<div class="t" style="left:164px;top:910.6px;font-size:6.62px;line-height:7.9px;color:#8a8e95;font-weight:normal;">expected visitors in <b style="color:#3d4047">All Regions</b></div>
<svg class="r" style="left:386px;top:881.1px" width="12" height="12" viewBox="0 0 12 12" fill="none" stroke="#c0c4c9" stroke-width="1"><rect x="1" y="1.8" width="10" height="9.5" rx="1"/><path d="M1 4h10M3.5 0.5v2M8.5 0.5v2"/><rect x="5" y="6.3" width="2" height="2" fill="#c0c4c9" stroke="none"/></svg>
<svg class="r" style="left:400px;top:881.6px" width="9" height="9" viewBox="0 0 9 9" fill="none" stroke="#c9ccd0" stroke-width="0.8"><circle cx="4.5" cy="4.5" r="3.8"/></svg>
<svg class="r" style="left:153px;top:872.6px" width="265" height="112" viewBox="0 0 265 112"><path d="M9 63.5 C30 63.5 60 62 92 62.5 C115 63 140 72 172 71.5 C195 71 205 66 230 65.5 C240 65.3 248 65.3 254 65.3" stroke="#9a9ca0" stroke-width="2" fill="none"/><path d="M9 63.5 C30 63.5 60 62 92 62.5 C115 63 140 72 172 71.5 C195 71 205 66 230 65.5 C240 65.3 248 65.3 254 65.3" stroke="#c4c6c9" stroke-width="0.6" fill="none" stroke-dasharray="0.8 1.6"/><path d="M7 88 H257" stroke="#d0d2d5" stroke-width="1"/></svg>
<div class="r" style="left:162.0px;top:959.1px;width:1px;height:3px;background:#b8bbbf;"></div>
<div class="t" style="left:162.5px;top:965.8px;font-size:4.70px;line-height:5.6px;color:#a1a5ab;font-weight:normal;transform:translateX(-50%);">Jul 21</div>
<div class="r" style="left:203.0px;top:959.1px;width:1px;height:3px;background:#b8bbbf;"></div>
<div class="t" style="left:203.5px;top:965.8px;font-size:4.70px;line-height:5.6px;color:#a1a5ab;font-weight:normal;transform:translateX(-50%);">Jul 22</div>
<div class="r" style="left:244.0px;top:959.1px;width:1px;height:3px;background:#b8bbbf;"></div>
<div class="t" style="left:244.5px;top:965.8px;font-size:4.70px;line-height:5.6px;color:#a1a5ab;font-weight:normal;transform:translateX(-50%);">Jul 23</div>
<div class="r" style="left:285.0px;top:959.1px;width:1px;height:3px;background:#b8bbbf;"></div>
<div class="t" style="left:285.5px;top:965.8px;font-size:4.70px;line-height:5.6px;color:#a1a5ab;font-weight:normal;transform:translateX(-50%);">Jul 24</div>
<div class="r" style="left:326.0px;top:959.1px;width:1px;height:3px;background:#b8bbbf;"></div>
<div class="t" style="left:326.5px;top:965.8px;font-size:4.70px;line-height:5.6px;color:#a1a5ab;font-weight:normal;transform:translateX(-50%);">Jul 25</div>
<div class="r" style="left:367.0px;top:959.1px;width:1px;height:3px;background:#b8bbbf;"></div>
<div class="t" style="left:367.5px;top:965.8px;font-size:4.70px;line-height:5.6px;color:#a1a5ab;font-weight:normal;transform:translateX(-50%);">Jul 26</div>
<div class="r" style="left:408.0px;top:959.1px;width:1px;height:3px;background:#b8bbbf;"></div>
<div class="t" style="left:408.5px;top:965.8px;font-size:4.70px;line-height:5.6px;color:#a1a5ab;font-weight:normal;transform:translateX(-50%);">Jul 27</div>
<div class="t" style="left:285.5px;top:972.6px;font-size:6.40px;line-height:7.7px;color:#3463b3;font-weight:normal;transform:translateX(-50%);font-style:italic;">Future daily predictions</div>
<div class="r" style="left:434.8px;top:872.6px;width:265px;height:111.5px;background:#ffffff;box-shadow:0 0 0 1px #e7e9ec;"></div>
<div class="t" style="left:445.8px;top:884.1px;font-size:8.00px;line-height:9.6px;color:#6b6f76;font-weight:normal;">Next Week</div>
<div class="t" style="left:445.6px;top:896.1px;font-size:11.80px;line-height:14.2px;color:#33363d;font-weight:bold;">240,477</div>
<div class="t" style="left:445.8px;top:910.6px;font-size:6.62px;line-height:7.9px;color:#8a8e95;font-weight:normal;">expected visitors in <b style="color:#3d4047">All Regions</b></div>
<svg class="r" style="left:667.8px;top:881.1px" width="12" height="12" viewBox="0 0 12 12" fill="none" stroke="#c0c4c9" stroke-width="1"><rect x="1" y="1.8" width="10" height="9.5" rx="1"/><path d="M1 4h10M3.5 0.5v2M8.5 0.5v2"/><rect x="5" y="6.3" width="2" height="2" fill="#c0c4c9" stroke="none"/></svg>
<svg class="r" style="left:681.8px;top:881.6px" width="9" height="9" viewBox="0 0 9 9" fill="none" stroke="#c9ccd0" stroke-width="0.8"><circle cx="4.5" cy="4.5" r="3.8"/></svg>
<svg class="r" style="left:434.8px;top:872.6px" width="265" height="112" viewBox="0 0 265 112"><path d="M9 52 H255" stroke="#9a9ca0" stroke-width="2" fill="none"/><path d="M9 52 H255" stroke="#c4c6c9" stroke-width="0.6" fill="none" stroke-dasharray="0.8 1.6"/><path d="M7 88 H257" stroke="#d0d2d5" stroke-width="1"/></svg>
<div class="r" style="left:443.8px;top:959.1px;width:1px;height:3px;background:#b8bbbf;"></div>
<div class="t" style="left:444.3px;top:965.8px;font-size:4.70px;line-height:5.6px;color:#a1a5ab;font-weight:normal;transform:translateX(-50%);">w 30</div>
<div class="r" style="left:484.8px;top:959.1px;width:1px;height:3px;background:#b8bbbf;"></div>
<div class="t" style="left:485.3px;top:965.8px;font-size:4.70px;line-height:5.6px;color:#a1a5ab;font-weight:normal;transform:translateX(-50%);">w 31</div>
<div class="r" style="left:525.8px;top:959.1px;width:1px;height:3px;background:#b8bbbf;"></div>
<div class="t" style="left:526.3px;top:965.8px;font-size:4.70px;line-height:5.6px;color:#a1a5ab;font-weight:normal;transform:translateX(-50%);">w 32</div>
<div class="r" style="left:566.8px;top:959.1px;width:1px;height:3px;background:#b8bbbf;"></div>
<div class="t" style="left:567.3px;top:965.8px;font-size:4.70px;line-height:5.6px;color:#a1a5ab;font-weight:normal;transform:translateX(-50%);">w 33</div>
<div class="r" style="left:607.8px;top:959.1px;width:1px;height:3px;background:#b8bbbf;"></div>
<div class="t" style="left:608.3px;top:965.8px;font-size:4.70px;line-height:5.6px;color:#a1a5ab;font-weight:normal;transform:translateX(-50%);">w 34</div>
<div class="r" style="left:648.8px;top:959.1px;width:1px;height:3px;background:#b8bbbf;"></div>
<div class="t" style="left:649.3px;top:965.8px;font-size:4.70px;line-height:5.6px;color:#a1a5ab;font-weight:normal;transform:translateX(-50%);">w 35</div>
<div class="r" style="left:689.8px;top:959.1px;width:1px;height:3px;background:#b8bbbf;"></div>
<div class="t" style="left:690.3px;top:965.8px;font-size:4.70px;line-height:5.6px;color:#a1a5ab;font-weight:normal;transform:translateX(-50%);">w 36</div>
<div class="t" style="left:567.3px;top:972.6px;font-size:6.40px;line-height:7.7px;color:#3463b3;font-weight:normal;transform:translateX(-50%);font-style:italic;">Future weekly predictions</div>
<div class="r" style="left:717px;top:872.6px;width:265px;height:111.5px;background:#ffffff;box-shadow:0 0 0 1px #e7e9ec;"></div>
<div class="t" style="left:728px;top:884.1px;font-size:8.00px;line-height:9.6px;color:#6b6f76;font-weight:normal;">Next Month</div>
<div class="t" style="left:727.8px;top:896.7px;font-size:10.90px;line-height:13.1px;color:#33363d;font-weight:bold;">1,056,174</div>
<div class="t" style="left:728px;top:910.6px;font-size:6.62px;line-height:7.9px;color:#8a8e95;font-weight:normal;">expected visitors in <b style="color:#3d4047">All Regions</b></div>
<svg class="r" style="left:950px;top:881.1px" width="12" height="12" viewBox="0 0 12 12" fill="none" stroke="#c0c4c9" stroke-width="1"><rect x="1" y="1.8" width="10" height="9.5" rx="1"/><path d="M1 4h10M3.5 0.5v2M8.5 0.5v2"/><rect x="5" y="6.3" width="2" height="2" fill="#c0c4c9" stroke="none"/></svg>
<svg class="r" style="left:964px;top:881.6px" width="9" height="9" viewBox="0 0 9 9" fill="none" stroke="#c9ccd0" stroke-width="0.8"><circle cx="4.5" cy="4.5" r="3.8"/></svg>
<svg class="r" style="left:717px;top:872.6px" width="265" height="112" viewBox="0 0 265 112"><path d="M10 53 C30 53 45 53 52 54 C62 56 75 80 88 87 H254" stroke="#9a9ca0" stroke-width="2" fill="none"/><path d="M10 53 C30 53 45 53 52 54 C62 56 75 80 88 87 H254" stroke="#c4c6c9" stroke-width="0.6" fill="none" stroke-dasharray="0.8 1.6"/><path d="M7 88 H257" stroke="#d0d2d5" stroke-width="1"/></svg>
<div class="r" style="left:726.0px;top:959.1px;width:1px;height:3px;background:#b8bbbf;"></div>
<div class="t" style="left:726.5px;top:965.8px;font-size:4.70px;line-height:5.6px;color:#a1a5ab;font-weight:normal;transform:translateX(-50%);">Aug</div>
<div class="r" style="left:767.0px;top:959.1px;width:1px;height:3px;background:#b8bbbf;"></div>
<div class="t" style="left:767.5px;top:965.8px;font-size:4.70px;line-height:5.6px;color:#a1a5ab;font-weight:normal;transform:translateX(-50%);">Sep</div>
<div class="r" style="left:808.0px;top:959.1px;width:1px;height:3px;background:#b8bbbf;"></div>
<div class="t" style="left:808.5px;top:965.8px;font-size:4.70px;line-height:5.6px;color:#a1a5ab;font-weight:normal;transform:translateX(-50%);">Oct</div>
<div class="r" style="left:849.0px;top:959.1px;width:1px;height:3px;background:#b8bbbf;"></div>
<div class="t" style="left:849.5px;top:965.8px;font-size:4.70px;line-height:5.6px;color:#a1a5ab;font-weight:normal;transform:translateX(-50%);">Nov</div>
<div class="r" style="left:890.0px;top:959.1px;width:1px;height:3px;background:#b8bbbf;"></div>
<div class="t" style="left:890.5px;top:965.8px;font-size:4.70px;line-height:5.6px;color:#a1a5ab;font-weight:normal;transform:translateX(-50%);">Dec</div>
<div class="r" style="left:931.0px;top:959.1px;width:1px;height:3px;background:#b8bbbf;"></div>
<div class="t" style="left:931.5px;top:965.8px;font-size:4.70px;line-height:5.6px;color:#a1a5ab;font-weight:normal;transform:translateX(-50%);">Jan</div>
<div class="r" style="left:972.0px;top:959.1px;width:1px;height:3px;background:#b8bbbf;"></div>
<div class="t" style="left:972.5px;top:965.8px;font-size:4.70px;line-height:5.6px;color:#a1a5ab;font-weight:normal;transform:translateX(-50%);">Feb</div>
<div class="t" style="left:849.5px;top:972.6px;font-size:6.40px;line-height:7.7px;color:#3463b3;font-weight:normal;transform:translateX(-50%);font-style:italic;">Future monthly predictions</div>
<div class="r" style="left:133px;top:500px;width:867px;height:28px;background:#ffffff;"></div>
<div class="r" style="left:133px;top:528px;width:867px;height:1px;background:#e6e8eb;"></div>
<div class="r" style="left:133px;top:529px;width:867px;height:18px;background:#ffffff;"></div>
<svg class="r" style="left:150px;top:510px" width="10" height="9" viewBox="0 0 10 9"><path d="M0 0.6H10M0 3.2H10M0 5.8H10M0 8.4H10" stroke="#a4a9b0" stroke-width="1.1"/></svg>
<div class="t" style="left:176.4px;top:507.6px;font-size:10.40px;line-height:12.5px;color:#3a3d44;font-weight:bold;transform:scaleX(0.914);transform-origin:0 50%;">ROCK BOLOGNA</div>
<div class="r" style="left:259.5px;top:512.8px;width:16px;height:5.5px;background:#f1f2f4;border-radius:1px;"></div>
<div class="t" style="left:267.5px;top:513.1px;font-size:4.20px;line-height:5.0px;color:#5d6168;font-weight:bold;transform:translateX(-50%);">3805</div>
<div class="r" style="left:887px;top:505px;width:49px;height:18px;background:#1f78e0;border-radius:2px;"></div>
<div class="t" style="left:911.8px;top:509.6px;font-size:7.32px;line-height:8.8px;color:#ffffff;font-weight:normal;transform:translateX(-50%);">Select Site</div>
<svg class="r" style="left:949px;top:507px" width="12" height="12" viewBox="0 0 12 12"><rect x="0.8" y="1.8" width="4.6" height="4.6" fill="none" stroke="#a3a8af" stroke-width="0.9"/><rect x="3.8" y="5" width="5" height="5" fill="none" stroke="#a3a8af" stroke-width="0.9"/><rect x="4.6" y="5.8" width="3.4" height="3.4" fill="#c2c6cb"/></svg>
<div class="t" style="left:958.5px;top:506.2px;font-size:4.30px;line-height:5.2px;color:#6f8fbf;font-weight:bold;">EN</div>
<div class="r" style="left:975.5px;top:504.5px;width:19.5px;height:19.5px;border-radius:50%;background:#f2f3f4;border:1px solid #e0e2e5"></div>
<svg class="r" style="left:975.5px;top:504.5px" width="19.5" height="19.5" viewBox="0 0 19.5 19.5"><circle cx="9.6" cy="5.5" r="1.8" fill="#2a2a33"/><rect x="7.8" y="7.3" width="3.6" height="5" fill="#3a3550"/><rect x="7.8" y="11.8" width="3.6" height="4" fill="#b4244a"/><path d="M11.2 9 l3 1.5 l-3 1.5z" fill="#8fd28a"/></svg>
<div class="t" style="left:142px;top:534.0px;font-size:7.20px;line-height:8.6px;color:#5a86c4;font-weight:normal;">Home</div>
<div class="t" style="left:166px;top:534.0px;font-size:7.20px;line-height:8.6px;color:#a0a5ac;font-weight:normal;">/</div>
<div class="t" style="left:173.2px;top:533.8px;font-size:7.49px;line-height:9.0px;color:#979ca4;font-weight:normal;">Overview Total</div>
<svg class="r" style="left:229px;top:534.3px" width="8" height="8" viewBox="0 0 8 8" fill="none" stroke="#6b95cf" stroke-width="1"><path d="M1.2 3.3 a2.9 2.9 0 0 1 5.3-1.2 M6.8 4.7 a2.9 2.9 0 0 1-5.3 1.2"/><path d="M6.9 0.6 v1.9 h-1.9 M1.1 7.4 v-1.9 h1.9"/></svg>
<svg class="r" style="left:958.5px;top:535.5px" width="6" height="6" viewBox="0 0 6 6"><path d="M0.5 0.3 L5.5 3 L0.5 5.7Z" fill="#2f5fa5"/></svg>
<div class="t" style="left:968.5px;top:535.0px;font-size:6.27px;line-height:7.5px;color:#3d4047;font-weight:bold;">2m&nbsp;&nbsp;00s</div>
<div class="r" style="left:133px;top:47px;width:3px;height:447px;background:#f7f8f9;"></div>
<div class="r" style="left:133px;top:546px;width:3px;height:454px;background:#f7f8f9;"></div>
<div class="r" style="left:0px;top:0px;width:133px;height:495px;background:#3c4964;"></div>
<div class="r" style="left:0px;top:0px;width:133px;height:30px;background:#2f3b53;"></div>
<svg class="r" style="left:0px;top:0px" width="133" height="30" viewBox="0 0 133 30">
<g fill="none" stroke="#7d889c" stroke-width="1.1">
<rect x="21.3" y="6" width="6.6" height="18" rx="3.3"/>
<rect x="29.3" y="7" width="6.2" height="17.5" rx="3.1"/>
<rect x="37.5" y="7.5" width="6.2" height="17" rx="3.1"/>
</g>
<path d="M21 9.5 a3.4 3.4 0 0 1 6.8 0 V16.5 H21Z" fill="#f4f6f9"/>
<path d="M29.2 15.8 H35.6 V21.5 a3.2 3.2 0 0 1-6.4 0Z" fill="#f4f6f9"/>
<path d="M37.4 16 H43.8 V21.5 a3.2 3.2 0 0 1-6.4 0Z" fill="#f4f6f9"/>
<g fill="none" stroke="#3461a6" stroke-width="1.5">
<path d="M47 8 V24 H52.5"/>
<path d="M53 8 V24 H58 V16 H53 M53 16 H57.5 V8 H53"/>
<path d="M59 24 V8 H65 V24 M59 16 H65"/>
</g>
<path d="M65 17 H69.5" stroke="#8f9bb0" stroke-width="1.1"/>
<rect x="69.5" y="6.5" width="6.5" height="18.5" rx="3.2" fill="none" stroke="#9ca7ba" stroke-width="1.2"/>
<path d="M69.5 15.5 H76" stroke="#9ca7ba" stroke-width="1"/>
</svg>
<div class="t" style="left:76.5px;top:6.5px;font-size:17.20px;line-height:20.6px;color:#e6eaf1;font-weight:normal;">ense</div>
<div class="t" style="left:8px;top:45.4px;font-size:5.20px;line-height:6.2px;color:#c3cad6;font-weight:bold;letter-spacing:0.15px;">DATA VISUALIZATION</div>
<div class="t" style="left:8px;top:167.9px;font-size:5.20px;line-height:6.2px;color:#c3cad6;font-weight:bold;letter-spacing:0.15px;">MOBILITY</div>
<div class="t" style="left:8px;top:228.9px;font-size:5.20px;line-height:6.2px;color:#c3cad6;font-weight:bold;letter-spacing:0.15px;">SYSTEM</div>
<div class="t" style="left:8px;top:289.8px;font-size:5.20px;line-height:6.2px;color:#c3cad6;font-weight:bold;letter-spacing:0.15px;">REPORTS</div>
<svg class="r" style="left:9px;top:62.5px" width="10" height="10" viewBox="0 0 10 10" fill="none" stroke="#aab3c2" stroke-width="1"><path d="M1 2 h6 v3 a2 2 0 0 1-2 2 h-3 M2 2 v7 M6 6 l2 3"/></svg>
<div class="t" style="left:29px;top:63.2px;font-size:7.40px;line-height:8.9px;color:#dde2ea;font-weight:normal;">Insights Map</div>
<svg class="r" style="left:9px;top:77.5px" width="10" height="10" viewBox="0 0 10 10" fill="none" stroke="#aab3c2" stroke-width="0.9"><path d="M1.5 8 a3.5 3.5 0 0 1 7 0 M1 8 h8"/></svg>
<div class="t" style="left:29px;top:78.2px;font-size:7.40px;line-height:8.9px;color:#dde2ea;font-weight:normal;">Site Overview</div>
<div class="r" style="left:0px;top:89.7px;width:133px;height:15.6px;background:#2c5a9c;"></div>
<svg class="r" style="left:10px;top:93.5px" width="8" height="9" viewBox="0 0 8 9"><rect x="0" y="0" width="8" height="9" fill="#cfd9ec"/><path d="M0 3h8M0 6h8M4 0v9" stroke="#a9b9d6" stroke-width="0.5"/></svg>
<div class="t" style="left:29px;top:93.7px;font-size:7.40px;line-height:8.9px;color:#dde2ea;font-weight:normal;">Regions Overview</div>
<svg class="r" style="left:9px;top:108.5px" width="10" height="10" viewBox="0 0 10 10" fill="#aab3c2"><path d="M5 1 L6.5 4.5 H3.5Z M2.5 5.5 h5 l1.5 3.5 h-8z"/></svg>
<div class="t" style="left:29px;top:109.2px;font-size:7.40px;line-height:8.9px;color:#dde2ea;font-weight:normal;">Overview Total</div>
<svg class="r" style="left:9px;top:123.5px" width="10" height="10" viewBox="0 0 10 10" fill="none" stroke="#aab3c2" stroke-width="0.9"><path d="M1 1 v8 h8 M3 7 l2-2 l1.5 1 l2.5-3"/></svg>
<div class="t" style="left:29px;top:124.2px;font-size:7.40px;line-height:8.9px;color:#dde2ea;font-weight:normal;">Analytics</div>
<svg class="r" style="left:9px;top:139.0px" width="10" height="10" viewBox="0 0 10 10" fill="none" stroke="#aab3c2" stroke-width="0.9"><circle cx="5" cy="5" r="4"/><path d="M5 2.5v5"/></svg>
<div class="t" style="left:29px;top:139.7px;font-size:7.40px;line-height:8.9px;color:#dde2ea;font-weight:normal;">Valuation</div>
<svg class="r" style="left:9px;top:184.8px" width="10" height="10" viewBox="0 0 10 10" fill="none" stroke="#aab3c2" stroke-width="0.9"><circle cx="2.5" cy="7.5" r="1.5"/><circle cx="7.5" cy="2.5" r="1.5"/><path d="M4 7.5 h4 M2.5 6 v-2 a2 2 0 0 1 2-2 h1.5"/></svg>
<div class="t" style="left:29px;top:185.5px;font-size:7.40px;line-height:8.9px;color:#dde2ea;font-weight:normal;">Mobility Map</div>
<svg class="r" style="left:9px;top:200.5px" width="10" height="10" viewBox="0 0 10 10" fill="none" stroke="#aab3c2" stroke-width="0.8"><rect x="1" y="1" width="8" height="8"/><path d="M5 1v8M1 5h8"/></svg>
<div class="t" style="left:29px;top:201.2px;font-size:7.40px;line-height:8.9px;color:#dde2ea;font-weight:normal;">Mobility Table</div>
<svg class="r" style="left:9px;top:245.9px" width="10" height="10" viewBox="0 0 10 10" fill="none" stroke="#aab3c2" stroke-width="0.9"><path d="M3 2.5 a3.5 3.5 0 1 0 4 0 M5 1v4"/></svg>
<div class="t" style="left:29px;top:246.6px;font-size:7.40px;line-height:8.9px;color:#dde2ea;font-weight:normal;">Sensor Health</div>
<svg class="r" style="left:9px;top:261.0px" width="10" height="10" viewBox="0 0 10 10" fill="none" stroke="#aab3c2" stroke-width="0.9"><circle cx="5" cy="5" r="2.8"/><path d="M5 0.8v1.4M5 7.8v1.4M0.8 5h1.4M7.8 5h1.4M2 2l1 1M7 7l1 1M2 8l1-1M7 3l1-1"/></svg>
<div class="t" style="left:29px;top:261.7px;font-size:7.40px;line-height:8.9px;color:#dde2ea;font-weight:normal;">Regions Setup</div>
<svg class="r" style="left:9px;top:306.8px" width="10" height="10" viewBox="0 0 10 10" fill="none" stroke="#aab3c2" stroke-width="0.9"><path d="M2 1 h4 l2.5 2.5 v5.5 h-6.5z M6 1v2.5h2.5"/></svg>
<div class="t" style="left:29px;top:307.5px;font-size:7.40px;line-height:8.9px;color:#dde2ea;font-weight:normal;">Daily Report</div>
<svg class="r" style="left:9px;top:321.5px" width="10" height="10" viewBox="0 0 10 10" fill="none" stroke="#aab3c2" stroke-width="0.9"><path d="M2 1 h4 l2.5 2.5 v5.5 h-6.5z M6 1v2.5h2.5"/></svg>
<div class="t" style="left:29px;top:322.2px;font-size:7.40px;line-height:8.9px;color:#dde2ea;font-weight:normal;">Summary Report</div>
<svg class="r" style="left:9px;top:337.1px" width="10" height="10" viewBox="0 0 10 10" fill="none" stroke="#aab3c2" stroke-width="0.8"><rect x="1" y="2" width="8" height="7"/><path d="M1 4h8"/></svg>
<div class="t" style="left:29px;top:337.8px;font-size:7.40px;line-height:8.9px;color:#dde2ea;font-weight:normal;">CSV Download</div>
<div class="r" style="left:0px;top:495px;width:133px;height:505px;background:#3c4964;"></div>
<div class="r" style="left:0px;top:495px;width:133px;height:33px;background:#2f3b53;"></div>
<svg class="r" style="left:0px;top:500px" width="133" height="30" viewBox="0 0 133 30">
<g fill="none" stroke="#7d889c" stroke-width="1.1">
<rect x="21.3" y="6" width="6.6" height="18" rx="3.3"/>
<rect x="29.3" y="7" width="6.2" height="17.5" rx="3.1"/>
<rect x="37.5" y="7.5" width="6.2" height="17" rx="3.1"/>
</g>
<path d="M21 9.5 a3.4 3.4 0 0 1 6.8 0 V16.5 H21Z" fill="#f4f6f9"/>
<path d="M29.2 15.8 H35.6 V21.5 a3.2 3.2 0 0 1-6.4 0Z" fill="#f4f6f9"/>
<path d="M37.4 16 H43.8 V21.5 a3.2 3.2 0 0 1-6.4 0Z" fill="#f4f6f9"/>
<g fill="none" stroke="#3461a6" stroke-width="1.5">
<path d="M47 8 V24 H52.5"/>
<path d="M53 8 V24 H58 V16 H53 M53 16 H57.5 V8 H53"/>
<path d="M59 24 V8 H65 V24 M59 16 H65"/>
</g>
<path d="M65 17 H69.5" stroke="#8f9bb0" stroke-width="1.1"/>
<rect x="69.5" y="6.5" width="6.5" height="18.5" rx="3.2" fill="none" stroke="#9ca7ba" stroke-width="1.2"/>
<path d="M69.5 15.5 H76" stroke="#9ca7ba" stroke-width="1"/>
</svg>
<div class="t" style="left:76.5px;top:506.5px;font-size:17.20px;line-height:20.6px;color:#e6eaf1;font-weight:normal;">ense</div>
<div class="t" style="left:8px;top:545.4px;font-size:5.20px;line-height:6.2px;color:#c3cad6;font-weight:bold;letter-spacing:0.15px;">DATA VISUALIZATION</div>
<div class="t" style="left:8px;top:667.9px;font-size:5.20px;line-height:6.2px;color:#c3cad6;font-weight:bold;letter-spacing:0.15px;">MOBILITY</div>
<div class="t" style="left:8px;top:728.9px;font-size:5.20px;line-height:6.2px;color:#c3cad6;font-weight:bold;letter-spacing:0.15px;">SYSTEM</div>
<div class="t" style="left:8px;top:789.8px;font-size:5.20px;line-height:6.2px;color:#c3cad6;font-weight:bold;letter-spacing:0.15px;">REPORTS</div>
<svg class="r" style="left:9px;top:562.5px" width="10" height="10" viewBox="0 0 10 10" fill="none" stroke="#aab3c2" stroke-width="1"><path d="M1 2 h6 v3 a2 2 0 0 1-2 2 h-3 M2 2 v7 M6 6 l2 3"/></svg>
<div class="t" style="left:29px;top:563.2px;font-size:7.40px;line-height:8.9px;color:#dde2ea;font-weight:normal;">Insights Map</div>
<svg class="r" style="left:9px;top:577.5px" width="10" height="10" viewBox="0 0 10 10" fill="none" stroke="#aab3c2" stroke-width="0.9"><path d="M1.5 8 a3.5 3.5 0 0 1 7 0 M1 8 h8"/></svg>
<div class="t" style="left:29px;top:578.2px;font-size:7.40px;line-height:8.9px;color:#dde2ea;font-weight:normal;">Site Overview</div>
<svg class="r" style="left:10px;top:593.5px" width="8" height="9" viewBox="0 0 8 9"><rect x="0" y="0" width="8" height="9" fill="#8e98aa"/><path d="M0 3h8M0 6h8M4 0v9" stroke="#6f7a8e" stroke-width="0.5"/></svg>
<div class="t" style="left:29px;top:593.7px;font-size:7.40px;line-height:8.9px;color:#dde2ea;font-weight:normal;">Regions Overview</div>
<div class="r" style="left:0px;top:605.2px;width:133px;height:15.6px;background:#2c5a9c;"></div>
<svg class="r" style="left:9px;top:608.5px" width="10" height="10" viewBox="0 0 10 10" fill="#e8edf5"><path d="M5 1 L6.5 4.5 H3.5Z M2.5 5.5 h5 l1.5 3.5 h-8z"/></svg>
<div class="t" style="left:29px;top:609.2px;font-size:7.40px;line-height:8.9px;color:#dde2ea;font-weight:normal;">Overview Total</div>
<svg class="r" style="left:9px;top:623.5px" width="10" height="10" viewBox="0 0 10 10" fill="none" stroke="#aab3c2" stroke-width="0.9"><path d="M1 1 v8 h8 M3 7 l2-2 l1.5 1 l2.5-3"/></svg>
<div class="t" style="left:29px;top:624.2px;font-size:7.40px;line-height:8.9px;color:#dde2ea;font-weight:normal;">Analytics</div>
<svg class="r" style="left:9px;top:639.0px" width="10" height="10" viewBox="0 0 10 10" fill="none" stroke="#aab3c2" stroke-width="0.9"><circle cx="5" cy="5" r="4"/><path d="M5 2.5v5"/></svg>
<div class="t" style="left:29px;top:639.7px;font-size:7.40px;line-height:8.9px;color:#dde2ea;font-weight:normal;">Valuation</div>
<svg class="r" style="left:9px;top:684.8px" width="10" height="10" viewBox="0 0 10 10" fill="none" stroke="#aab3c2" stroke-width="0.9"><circle cx="2.5" cy="7.5" r="1.5"/><circle cx="7.5" cy="2.5" r="1.5"/><path d="M4 7.5 h4 M2.5 6 v-2 a2 2 0 0 1 2-2 h1.5"/></svg>
<div class="t" style="left:29px;top:685.5px;font-size:7.40px;line-height:8.9px;color:#dde2ea;font-weight:normal;">Mobility Map</div>
<svg class="r" style="left:9px;top:700.5px" width="10" height="10" viewBox="0 0 10 10" fill="none" stroke="#aab3c2" stroke-width="0.8"><rect x="1" y="1" width="8" height="8"/><path d="M5 1v8M1 5h8"/></svg>
<div class="t" style="left:29px;top:701.2px;font-size:7.40px;line-height:8.9px;color:#dde2ea;font-weight:normal;">Mobility Table</div>
<svg class="r" style="left:9px;top:745.9px" width="10" height="10" viewBox="0 0 10 10" fill="none" stroke="#aab3c2" stroke-width="0.9"><path d="M3 2.5 a3.5 3.5 0 1 0 4 0 M5 1v4"/></svg>
<div class="t" style="left:29px;top:746.6px;font-size:7.40px;line-height:8.9px;color:#dde2ea;font-weight:normal;">Sensor Health</div>
<svg class="r" style="left:9px;top:761.0px" width="10" height="10" viewBox="0 0 10 10" fill="none" stroke="#aab3c2" stroke-width="0.9"><circle cx="5" cy="5" r="2.8"/><path d="M5 0.8v1.4M5 7.8v1.4M0.8 5h1.4M7.8 5h1.4M2 2l1 1M7 7l1 1M2 8l1-1M7 3l1-1"/></svg>
<div class="t" style="left:29px;top:761.7px;font-size:7.40px;line-height:8.9px;color:#dde2ea;font-weight:normal;">Regions Setup</div>
<svg class="r" style="left:9px;top:806.8px" width="10" height="10" viewBox="0 0 10 10" fill="none" stroke="#aab3c2" stroke-width="0.9"><path d="M2 1 h4 l2.5 2.5 v5.5 h-6.5z M6 1v2.5h2.5"/></svg>
<div class="t" style="left:29px;top:807.5px;font-size:7.40px;line-height:8.9px;color:#dde2ea;font-weight:normal;">Daily Report</div>
<svg class="r" style="left:9px;top:821.5px" width="10" height="10" viewBox="0 0 10 10" fill="none" stroke="#aab3c2" stroke-width="0.9"><path d="M2 1 h4 l2.5 2.5 v5.5 h-6.5z M6 1v2.5h2.5"/></svg>
<div class="t" style="left:29px;top:822.2px;font-size:7.40px;line-height:8.9px;color:#dde2ea;font-weight:normal;">Summary Report</div>
<svg class="r" style="left:9px;top:837.1px" width="10" height="10" viewBox="0 0 10 10" fill="none" stroke="#aab3c2" stroke-width="0.8"><rect x="1" y="2" width="8" height="7"/><path d="M1 4h8"/></svg>
<div class="t" style="left:29px;top:837.8px;font-size:7.40px;line-height:8.9px;color:#dde2ea;font-weight:normal;">CSV Download</div>
<div class="r" style="left:0px;top:993px;width:133px;height:7px;background:#2f3b52;"></div>
</div></body></html>
